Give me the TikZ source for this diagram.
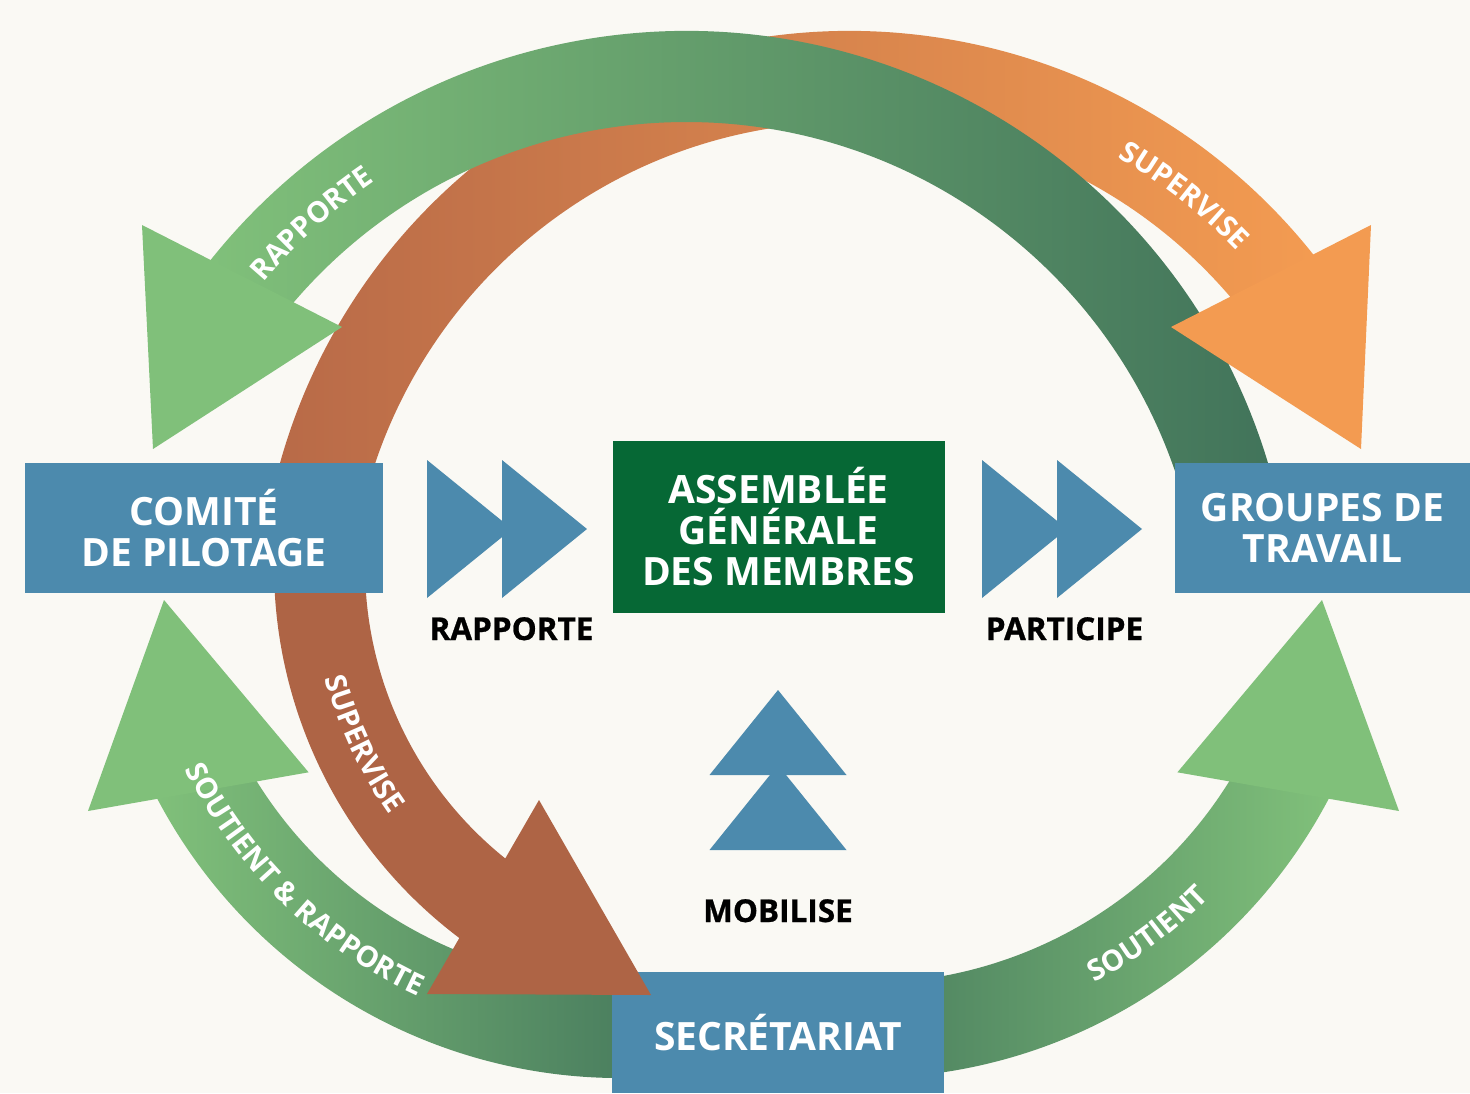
\documentclass[tikz,border=0pt]{standalone}
\usepackage{fontspec}
\setmainfont{Open Sans}
\newfontfamily\lblfont[BoldFeatures={FakeBold=0.8}]{Open Sans}
\usepackage{tikz}
\usetikzlibrary{decorations.text}
\definecolor{bgcol}{HTML}{FAF9F4}
\definecolor{boxblue}{HTML}{4C8AAD}
\definecolor{agegreen}{HTML}{066835}
\definecolor{lgreen}{HTML}{80C07A}
\definecolor{mgreen}{HTML}{6AA76F}
\definecolor{dgreen}{HTML}{41735A}
\definecolor{lorange}{HTML}{F39B51}
\definecolor{morange}{HTML}{E38B4E}
\definecolor{dorange}{HTML}{B86A48}
\definecolor{abrown}{HTML}{AE6445}

\begin{document}
\begin{tikzpicture}[x=1pt,y=1pt,
    box/.style={fill=boxblue, text=white, font=\fontsize{39}{41}\selectfont\bfseries, align=center, inner sep=0pt},
    lbl/.style={font=\lblfont\fontsize{31.5}{33}\selectfont\bfseries, anchor=base},
    arctxt/.style={decorate, decoration={text along path, text align=center, text={|\fontsize{29}{30}\selectfont\bfseries\color{white}|#1}}}]
            \useasboundingbox (0,0) rectangle (1470,-1093);
            \fill[bgcol] (0,0) rectangle (1470,-1093);
            \coordinate (cG1) at (686,-639);
            \coordinate (cO1) at (850,-623);
            \coordinate (cB1) at (740,-566);
            \coordinate (cG2) at (620,-555);
            \coordinate (cG3) at (866,-555);
            \shade[left color=dorange, middle color=morange, right color=lorange] ([shift={(168:592)}]cO1) arc[start angle=168, end angle=38.5, radius=592] -- ([shift={(38.5:501)}]cO1) arc[start angle=38.5, end angle=168, radius=501] -- cycle;
            \shade[left color=lgreen, middle color=mgreen, right color=dgreen] ([shift={(12:608)}]cG1) arc[start angle=12, end angle=141.5, radius=608] -- ([shift={(141.5:517)}]cG1) arc[start angle=141.5, end angle=12, radius=517] -- cycle;
            \fill[lorange] (1371,-225) -- (1171,-327) -- (1361,-449) -- cycle;
            \fill[lgreen] (142,-225) -- (342,-327) -- (153,-449) -- cycle;
            \shade[left color=lgreen, right color=dgreen] ([shift={(207.7:523)}]cG2) arc[start angle=207.7, end angle=280, radius=523] -- ([shift={(280:428)}]cG2) arc[start angle=280, end angle=207.7, radius=428] -- cycle;
            \shade[left color=dgreen, right color=lgreen] ([shift={(260:523)}]cG3) arc[start angle=260, end angle=332.3, radius=523] -- ([shift={(332.3:428)}]cG3) arc[start angle=332.3, end angle=260, radius=428] -- cycle;
            \fill[lgreen] (164,-600) -- (88,-811) -- (308.6,-772.3) -- cycle;
            \fill[lgreen] (1322,-600) -- (1399,-811) -- (1177.4,-772.3) -- cycle;
            \fill[abrown] ([shift={(175:466)}]cB1) arc[start angle=175, end angle=233, radius=466] -- ([shift={(233:375)}]cB1) arc[start angle=233, end angle=175, radius=375] -- cycle;
            \node[box, minimum width=358, minimum height=130] (comite) at (204,-528) {COMITÉ\\DE PILOTAGE};
            \node[box, minimum width=295, minimum height=130] (groupes) at (1322.5,-528) {GROUPES DE\\TRAVAIL};
            \node[box, fill=agegreen, minimum width=332, minimum height=172] (age) at (778.5,-527) {ASSEMBLÉE\\GÉNÉRALE\\DES MEMBRES};
            \node[box, minimum width=332, minimum height=121] (secretariat) at (778,-1032.5) {SECRÉTARIAT};
            \fill[abrown] (539,-800) -- (427,-994) -- (651,-995) -- cycle;
            \foreach \x in {427,502,982,1057}
                \fill[boxblue] (\x,-460) -- (\x+85,-529) -- (\x,-598) -- cycle;
            \foreach \y in {690,765}
                \fill[boxblue] (778,-\y) -- (846.5,-\y-85) -- (709.5,-\y-85) -- cycle;
            \node[lbl] (rapporte) at (511.5,-640) {RAPPORTE};
            \node[lbl] (participe) at (1064.5,-640) {PARTICIPE};
            \node[lbl] (mobilise) at (778,-922) {MOBILISE};
            \path[arctxt=RAPPORTE] ([shift={(152:553)}]cG1) arc[start angle=152, end angle=112, radius=553];
            \path[arctxt=SUPERVISE] ([shift={(72:537)}]cO1) arc[start angle=72, end angle=32, radius=537];
            \path[arctxt=SUPERVISE] ([shift={(185:430)}]cB1) arc[start angle=185, end angle=225.6, radius=430];
            \path[arctxt={SOUTIENT {\&} RAPPORTE}] ([shift={(195:485)}]cG2) arc[start angle=195, end angle=256.6, radius=485];
            \path[arctxt=SOUTIENT] ([shift={(286.6:485)}]cG3) arc[start angle=286.6, end angle=326.6, radius=485];
        \end{tikzpicture}
\end{document}
